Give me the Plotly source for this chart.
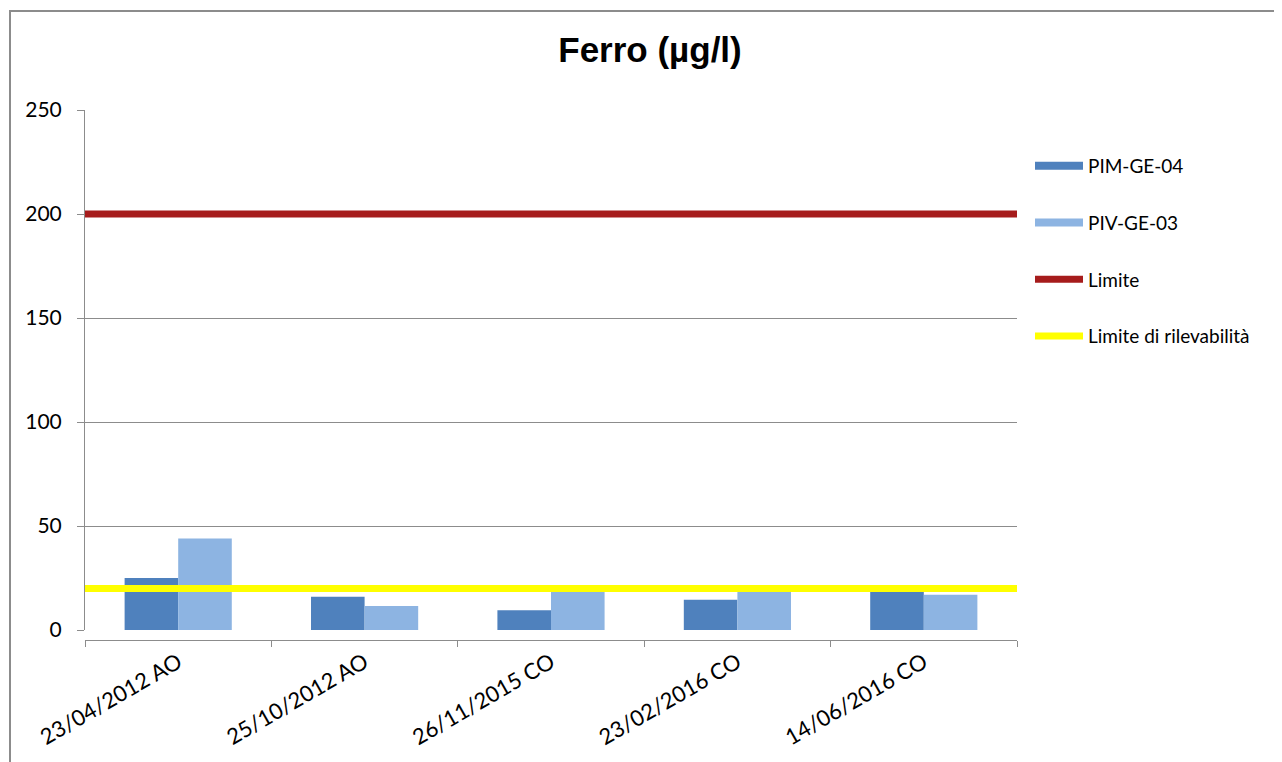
import plotly.graph_objects as go

categories = ["23/04/2012 AO", "25/10/2012 AO", "26/11/2015 CO", "23/02/2016 CO", "14/06/2016 CO"]
pim_ge_04 = [25, 16, 9.5, 14.5, 19.5]
piv_ge_03 = [44, 11.5, 19, 19, 17]
limite = 200
limite_rilevabilita = 20
y_ticks = [0, 50, 100, 150, 200, 250]

W, H = 1282, 762
OFF = 8  # page body margin
L, R, T, B = 85 - OFF, 1017 - OFF, 110 - OFF, 640 - OFF
ZERO_PX = 630 - OFF
pw, ph = R - L, B - T

C_PIM = "#4F81BD"
C_PIV = "#8DB4E2"
C_RED = "#A61C1C"
C_YEL = "#FFFF00"
GRAY = "#8C8C8C"
FONT = "Lato"

fig = go.Figure()
fig.add_trace(go.Bar(x=categories, y=pim_ge_04, name="PIM-GE-04", marker_color=C_PIM,
                     marker_line_width=0, showlegend=False))
fig.add_trace(go.Bar(x=categories, y=piv_ge_03, name="PIV-GE-03", marker_color=C_PIV,
                     marker_line_width=0, showlegend=False))

# legend entries drawn as wide flat swatches (like the original)
fig.add_trace(go.Scatter(x=[None], y=[None], mode="lines", name="PIM-GE-04",
                         line=dict(color=C_PIM, width=8), xaxis="x2", legendgroup="a"))
fig.add_trace(go.Scatter(x=[None], y=[None], mode="lines", name="PIV-GE-03",
                         line=dict(color=C_PIV, width=8), xaxis="x2", legendgroup="b"))
fig.add_trace(go.Scatter(x=[0, 1], y=[limite, limite], mode="lines", name="Limite",
                         line=dict(color=C_RED, width=7), xaxis="x2", legendgroup="c",
                         hoverinfo="y"))
fig.add_trace(go.Scatter(x=[0, 1], y=[limite_rilevabilita, limite_rilevabilita], mode="lines",
                         name="Limite di rilevabilità",
                         line=dict(color=C_YEL, width=7), xaxis="x2", legendgroup="d",
                         hoverinfo="y"))

fig.update_layout(
    width=W, height=H,
    margin=dict(l=L, r=W - R, t=T, b=H - B, pad=0),
    paper_bgcolor="white", plot_bgcolor="white",
    barmode="group", bargap=0.425, bargroupgap=0,
    font=dict(family=FONT, size=21, color="#000000"),
    title=dict(text="<b>Ferro (µg/l)</b>", font=dict(family="Liberation Sans", size=35, color="#000"),
               xref="container", x=(650 - OFF) / W, xanchor="center",
               yref="container", y=1 - (50 - OFF) / H, yanchor="middle"),
    xaxis=dict(domain=[0, 1], anchor="free", position=0, type="category",
               showline=True, linecolor=GRAY, linewidth=1,
               ticks="outside", tickson="boundaries", ticklen=6, tickcolor=GRAY,
               showgrid=False, tickangle=-30, tickfont=dict(size=22, family=FONT)),
    xaxis2=dict(overlaying="x", range=[0, 1], visible=False, anchor="y"),
    yaxis=dict(domain=[(B - ZERO_PX) / ph, 1], range=[0, 250], tickvals=y_ticks,
               showline=True, linecolor=GRAY, linewidth=1,
               showgrid=True, gridcolor=GRAY, gridwidth=1,
               zeroline=False,
               ticks="outside", ticklen=7, tickcolor=GRAY,
               ticklabelstandoff=11, tickfont=dict(size=21, family=FONT)),
    legend=dict(x=(1030 - OFF - L) / pw, xanchor="left", y=(B - (147 - OFF)) / ph, yanchor="top",
                font=dict(size=19, family=FONT), itemwidth=48,
                tracegroupgap=29, bgcolor="rgba(0,0,0,0)"),
    showlegend=True,
    shapes=[dict(type="rect", xref="paper", yref="paper",
                 x0=(10 - OFF - L) / pw, x1=(1300 - L) / pw,
                 y0=(B - 800) / ph, y1=(B - (11 - OFF)) / ph,
                 line=dict(color=GRAY, width=2), fillcolor="rgba(0,0,0,0)", layer="below")],
)

fig.write_html("out.html")
